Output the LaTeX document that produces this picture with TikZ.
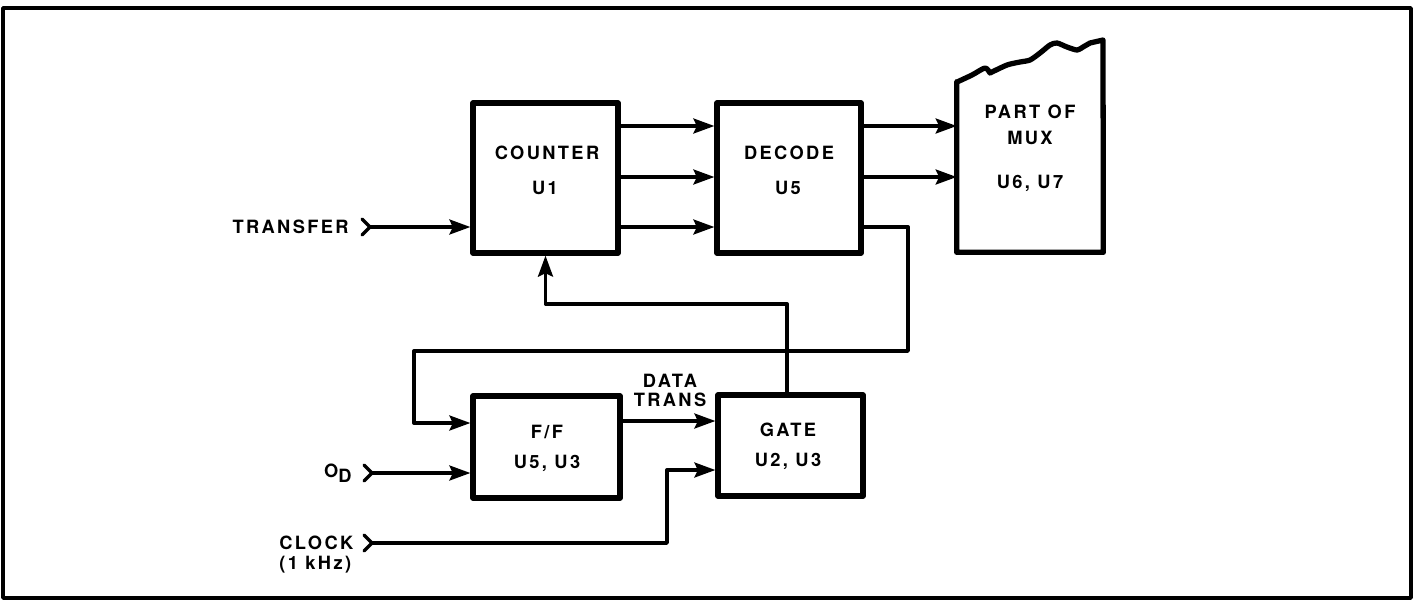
\documentclass[tikz,border=0pt]{standalone}
\usepackage{fontspec}
\usepackage{tikz}
\usetikzlibrary{arrows.meta,calc,positioning}
\newfontfamily\blockfont{TeX Gyre Heros}[LetterSpace=13]
\tikzset{
  every picture/.style={line join=round},
  frame/.style={draw=black, line width=2pt},
  blockbox/.style={
    draw=black,
    line width=3pt,
    fill=white,
    inner sep=0pt
  },
  wire/.style={draw=black, line width=1.9pt},
  sig/.style={wire, -{Stealth[length=4.2mm,width=3mm,inset=0.7mm]}},
  pinmark/.style={wire, line cap=round},
  txt/.style={font=\blockfont\bfseries\fontsize{10.4}{12}\selectfont, inner sep=0pt, anchor=base}
}

\begin{document}
\begin{tikzpicture}[x=0.02cm, y=-0.02cm]
  \useasboundingbox (0,0) rectangle (1417,600);
  \draw[frame] (3,8) rectangle (1411,598);

  % rows used by the parallel buses
  \coordinate (r1) at (0,126);
  \coordinate (r2) at (0,177);
  \coordinate (r3) at (0,227);
  \coordinate (r4) at (0,423);
  \coordinate (r5) at (0,421);
  \coordinate (r6) at (0,470);
  \coordinate (r7) at (0,473);

  % blocks
  \node[blockbox, minimum width=2.9cm, minimum height=3cm] (cnt) at (545.5,178) {};
  \node[blockbox, minimum width=2.88cm, minimum height=3cm] (dec) at (789,178) {};
  \node[blockbox, minimum width=2.94cm, minimum height=2.04cm] (ff) at (546.5,447) {};
  \node[blockbox, minimum width=2.9cm, minimum height=2.02cm] (gate) at (790.5,445.5) {};
  \node[minimum width=2.92cm, minimum height=3.4cm, inner sep=0pt] (mux) at (1030,167) {};
  % torn top edge of the mux
  \draw[blockbox] (mux.south west) -- (mux.north west)
    -- plot[smooth, tension=0.45] coordinates {(957,82) (972,75) (985,68) (990,73)}
    -- plot[smooth, tension=0.45] coordinates {(990,73) (1007,65) (1020,62) (1030,60) (1040,53) (1050,45) (1057,43) (1067,47) (1077,50) (1083,47)}
    -- (1090,43) -- (1103,40) -- (mux.south east) -- (mux.south west) -- cycle;

  % block texts
  \node[txt] (cntname) at (547,159.5) {COUNTER};
  \node[txt] (cntref) at (545,194.5) {U1};
  \node[txt] (decname) at (789,159.5) {DECODE};
  \node[txt] (decref) at (788,194.5) {U5};
  \node[txt] (muxname) at (1030,118.5) {PART OF};
  \node[txt] (muxname2) at (1030,144.5) {MUX};
  \node[txt] (muxref) at (1030,188.5) {U6, U7};
  \node[txt] (ffname) at (547,438.5) {F/F};
  \node[txt] (ffref) at (547,468.5) {U5, U3};
  \node[txt] (gatename) at (788,436.5) {GATE};
  \node[txt] (gateref) at (788,466.5) {U2, U3};
  \node[txt] (dt1) at (670,387.5) {DATA};
  \node[txt] (dt2) at (670,406.5) {TRANS};

  % inputs
  \coordinate (tin) at (370,227);
  \coordinate (odin) at (372,473);
  \coordinate (clkin) at (372,543);
  \node[txt, anchor=base east] (tlab) at (349,233.5) {TRANSFER};
  \node[txt, anchor=base east] (odlab) at (352,477.5) {O\raisebox{-0.55ex}{D}};
  \node[txt, anchor=base west] (clklab) at (279,549.5) {CLOCK};
  \node[txt, anchor=base west] (clkf) at (279,569.5) {(1 kHz)};
  \foreach \p in {tin,odin,clkin}
    \draw[pinmark] ([shift={(-8,-8)}]\p) -- (\p) -- ([shift={(-8,8)}]\p);

  % connections
  \draw[sig] (tin) -- (cnt.west |- tin);
  \foreach \r in {r1,r2,r3}
    \draw[sig] (cnt.east |- \r) -- (dec.west |- \r);
  \foreach \r in {r1,r2}
    \draw[sig] (dec.east |- \r) -- (mux.west |- \r);
  \coordinate (lp1) at (908,351);
  \coordinate (lp2) at (414,351);
  \draw[sig] (dec.east |- r3) -| (lp1) -- (lp2) |- (ff.west |- r4);
  \coordinate (fbk) at (787,304);
  \draw[sig] (gate.north -| fbk) -- (fbk) -| (cnt.south);
  \draw[sig] (ff.east |- r5) -- (gate.west |- r5);
  \draw[sig] (odin) -- (ff.west |- r7);
  \coordinate (ck) at (667,543);
  \draw[sig] (clkin) -- (ck) |- (gate.west |- r6);
\end{tikzpicture}
\end{document}
